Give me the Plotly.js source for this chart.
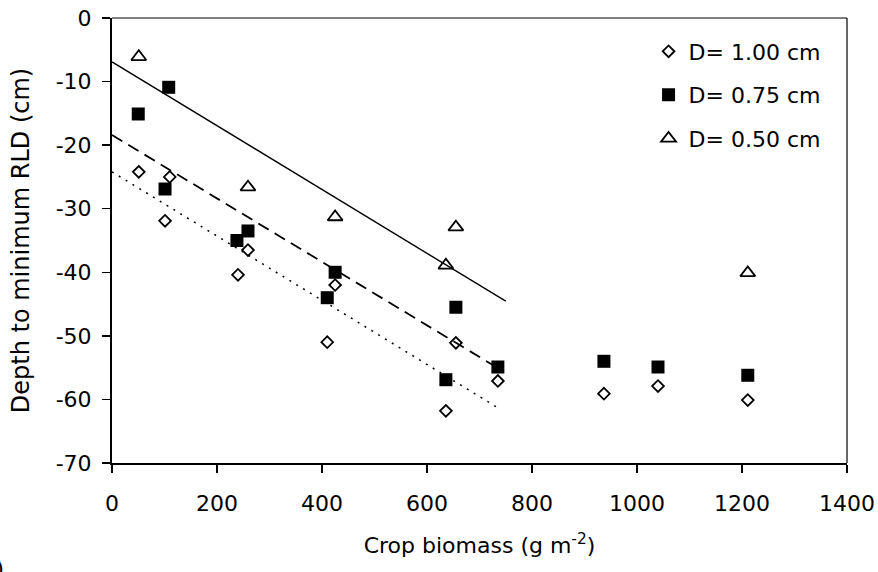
<!DOCTYPE html>
<html>
<head>
<meta charset="utf-8">
<script src="https://cdn.plot.ly/plotly-3.0.1.min.js"></script>
<style>html,body{margin:0;padding:0;background:#fff;}#chart{width:878px;height:572px;}</style>
</head>
<body>
<div id="chart"></div>
<script>
// Data
const seriesNames = ["D= 1.00 cm", "D= 0.75 cm", "D= 0.50 cm"];

const d100_x = [51, 110, 101, 240, 259, 425, 410, 655, 636, 735, 937, 1040, 1211];
const d100_y = [-24.2, -25, -31.9, -40.4, -36.5, -42, -51, -51.1, -61.8, -57.1, -59.1, -57.9, -60.1];

const d075_x = [50, 108, 101, 238, 259, 425, 410, 655, 636, 735, 937, 1040, 1211];
const d075_y = [-15.1, -10.9, -26.9, -35, -33.5, -40, -44, -45.5, -56.9, -54.9, -54, -54.9, -56.2];

const d050_x = [51, 259, 425, 655, 636, 1211];
const d050_y = [-6.1, -26.6, -31.3, -32.9, -38.9, -40.1];

// Linear trend lines: y = intercept + slope * x, drawn from 0 to xEnd
const trendIntercept = [-24.2, -18.4, -6.9];
const trendSlope = [-0.0505, -0.0499, -0.0502];
const trendXEnd = [740, 730, 750];

const xTicks = [0, 200, 400, 600, 800, 1000, 1200, 1400];
const yTicks = [0, -10, -20, -30, -40, -50, -60, -70];

const FONT = "DejaVu Sans, Liberation Sans, Arial, sans-serif";
const FS = 22;

const markerStyles = [
  {symbol: "diamond-open", size: 9, color: "#000", line: {width: 1.8, color: "#000"}},
  {symbol: "square", size: 13, color: "#000", line: {width: 0}},
  {symbol: "triangle-up-open", size: 13, color: "#000", line: {width: 1.8, color: "#000"}}
];
const lineStyles = [
  {color: "#000", width: 1.5, dash: "2px,6px"},
  {color: "#000", width: 1.8, dash: "12px,7px"},
  {color: "#000", width: 1.4, dash: "solid"}
];

const xs = [d100_x, d075_x, d050_x];
const ys = [d100_y, d075_y, d050_y];

const traces = [];
for (let i = 0; i < 3; i++) {
  traces.push({
    x: xs[i], y: ys[i], type: "scatter", mode: "markers",
    name: seriesNames[i], marker: markerStyles[i],
    legendgroup: "g" + i, cliponaxis: false
  });
}
for (let i = 0; i < 3; i++) {
  const lx = [0, trendXEnd[i]];
  const ly = lx.map(v => trendIntercept[i] + trendSlope[i] * v);
  traces.push({
    x: lx, y: ly, type: "scatter", mode: "lines",
    line: lineStyles[i], showlegend: false, hoverinfo: "skip",
    legendgroup: "g" + i
  });
}

const layout = {
  width: 878, height: 572,
  margin: {l: 112, r: 31, t: 18, b: 109},
  paper_bgcolor: "#fff", plot_bgcolor: "#fff",
  font: {family: FONT, size: FS, color: "#000"},
  showlegend: true,
  legend: {
    x: 0.730, y: 0.972, xanchor: "left", yanchor: "top",
    bgcolor: "rgba(0,0,0,0)", borderwidth: 0,
    font: {family: FONT, size: FS, color: "#000"},
    tracegroupgap: 12, itemsizing: "trace", traceorder: "grouped"
  },
  xaxis: {
    range: [0, 1400], tickvals: xTicks, ticktext: xTicks.map(String),
    showgrid: false, zeroline: false,
    showline: true, linecolor: "#000", linewidth: 2,
    ticks: "outside", ticklen: 8, tickwidth: 1.5, tickcolor: "#000",
    ticklabelstandoff: 12,
    tickfont: {family: FONT, size: FS, color: "#000"},
    title: {text: "Crop biomass (g m<sup>-2</sup>)", font: {family: FONT, size: FS, color: "#000"}, standoff: 22}
  },
  yaxis: {
    range: [-70, 0], tickvals: yTicks, ticktext: yTicks.map(String),
    showgrid: false, zeroline: false,
    showline: true, linecolor: "#000", linewidth: 2,
    ticks: "outside", ticklen: 8, tickwidth: 1.5, tickcolor: "#000",
    ticklabelstandoff: 6,
    tickfont: {family: FONT, size: FS, color: "#000"},
    title: {text: "Depth to minimum RLD (cm)", font: {family: FONT, size: 24, color: "#000"}, standoff: 19}
  },
  shapes: [
    {type: "line", xref: "paper", yref: "paper", x0: 0, x1: 1, y0: 1, y1: 1, line: {color: "#000", width: 1.2}},
    {type: "line", xref: "paper", yref: "paper", x0: 1, x1: 1, y0: 0, y1: 1, line: {color: "#000", width: 1.2}}
  ],
  annotations: [
    {text: "(b)", xref: "paper", yref: "paper", x: -0.1442, y: -0.236, xanchor: "right", yanchor: "middle",
     showarrow: false, font: {family: FONT, size: FS, color: "#000"}}
  ]
};

Plotly.newPlot("chart", traces, layout, {staticPlot: true, displayModeBar: false});
</script>
</body>
</html>
